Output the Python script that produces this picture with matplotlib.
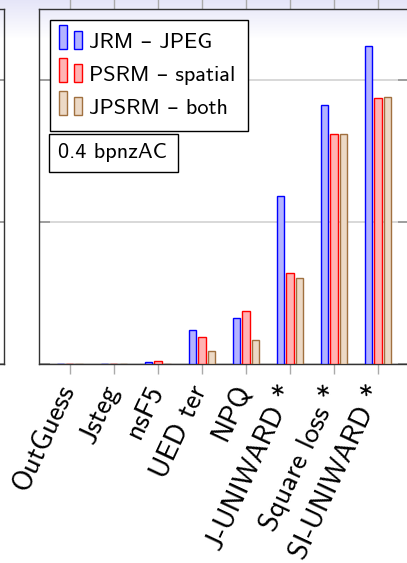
import numpy as np
import matplotlib
matplotlib.use('Agg')
import matplotlib.pyplot as plt
import matplotlib.transforms as mtransforms
from matplotlib.patches import Rectangle
from matplotlib.legend_handler import HandlerBase
from matplotlib import font_manager

# ---------------- data ----------------
categories = ['OutGuess', 'Jsteg', 'nsF5', 'UED ter', 'NPQ',
              'J-UNIWARD *', 'Square loss *', 'SI-UNIWARD *']
jrm = [0.05, 0.05, 0.14, 2.4, 3.24, 11.87, 18.26, 22.4]
psrm = [0.05, 0.05, 0.26, 1.9, 3.75, 6.43, 16.2, 18.75]
jpsrm = [0.03, 0.03, 0.03, 0.97, 1.69, 6.1, 16.2, 18.8]
series_labels = ['JRM – JPEG', 'PSRM – spatial', 'JPSRM – both']
annotation = '0.4 bpnzAC'
yticks = [0, 10, 20]

# ---------------- fonts ----------------
try:
    font_manager.findfont('cmss10', fallback_to_default=False)
    fam = ['cmss10', 'DejaVu Sans']
except Exception:
    fam = ['DejaVu Sans']
plt.rcParams['font.family'] = fam
FS = 16
FS_TICK = 20.5

W, H = 407, 563
fig = plt.figure(figsize=(W / 100, H / 100), dpi=100)

# background shading (beamer-like)
bg = fig.add_axes([0, 0, 1, 1], zorder=-10)
rows = np.arange(H)
t = np.clip(rows / 38.0, 0, 1)[:, None]
top = np.array([0.90, 0.90, 0.975])
img = top * (1 - t) + np.array([1.0, 1.0, 1.0]) * t
img = np.repeat(img[:, None, :], 2, axis=1)
bg.imshow(img, extent=[0, 1, 0, 1], aspect='auto', origin='upper')
bg.axis('off')


def fx(px):
    return px / W


def fy(py):
    return 1 - py / H


y_bot, y_top = 364.3, 9.3
ax = fig.add_axes([fx(39), fy(y_bot), fx(408.8) - fx(39), (y_bot - y_top) / H],
                  facecolor='none')

x = np.arange(len(categories))
bw = 0.166
off = 0.212
colors = [('#b3b3ff', '#0000ff'), ('#ffb3b3', '#ff0000'), ('#ecd9c6', '#a0703f')]
for vals, dx, (fc, ec) in zip([jrm, psrm, jpsrm], [-off, 0, off], colors):
    ax.bar(x + dx, vals, width=bw, facecolor=fc, edgecolor=ec, linewidth=1.0, zorder=3)

ax.set_xlim(-0.7, 7.7)
ax.set_ylim(0, 25)
ax.set_yticks(yticks)
ax.yaxis.grid(True, color='#d6d6d6', linewidth=1.3, zorder=0)
ax.set_axisbelow(True)
ax.tick_params(axis='y', direction='in', length=8, width=1.3, color='#999999',
               left=True, right=True, labelleft=False)
ax.set_xticks(x)
ax.tick_params(axis='x', direction='out', length=7, width=1, color='#aaaaaa',
               bottom=True, top=True, labelbottom=False)
lab_tr = ax.get_xaxis_transform() + mtransforms.ScaledTranslation(
    -13 / 100, -16.5 / 100, fig.dpi_scale_trans)
for xi, name in zip(x, categories):
    ax.text(xi, 0, name, transform=lab_tr, rotation=65, ha='right', va='top',
            rotation_mode='anchor', fontsize=FS_TICK)
for s in ax.spines.values():
    s.set_color('#333333')
    s.set_linewidth(1.0)

# left (cropped) panel
axL = fig.add_axes([-0.5, fy(y_bot), 0.5 + fx(4), (y_bot - y_top) / H], facecolor='none')
axL.set_ylim(0, 25)
axL.set_yticks(yticks)
axL.set_xticks([])
axL.yaxis.grid(True, color='#d6d6d6', linewidth=1.3)
axL.tick_params(axis='y', direction='in', length=8, width=1.3, color='#999999',
                left=True, right=True, labelleft=False)
for s in axL.spines.values():
    s.set_color('#333333')
    s.set_linewidth(1.0)


class TwoBars(HandlerBase):
    def create_artists(self, legend, orig_handle, xdescent, ydescent, width,
                       height, fontsize, trans):
        fc = orig_handle.get_facecolor()
        ec = orig_handle.get_edgecolor()
        w = 5.8
        x0 = -xdescent - 3.1
        r1 = Rectangle((x0, -ydescent - 0.5), w, 17.3, facecolor=fc,
                       edgecolor=ec, linewidth=1.0, transform=trans)
        r2 = Rectangle((x0 + 11, -ydescent - 0.5), w, 13.0, facecolor=fc,
                       edgecolor=ec, linewidth=1.0, transform=trans)
        return [r1, r2]


handles = [Rectangle((0, 0), 1, 1, facecolor=fc, edgecolor=ec) for fc, ec in colors]
leg = ax.legend(handles, series_labels, loc='upper left',
                bbox_to_anchor=(fx(50), fy(20)), bbox_transform=fig.transFigure,
                borderaxespad=0, frameon=True, fancybox=False, edgecolor='black',
                framealpha=1, borderpad=0.58, labelspacing=0.6,
                handlelength=1.08, handletextpad=0.09, fontsize=FS,
                handler_map={Rectangle: TwoBars()})
leg.get_frame().set_linewidth(1.0)
leg.set_zorder(10)

# annotation box
fig.patches.append(Rectangle((fx(49), fy(172)), fx(178) - fx(49), (172 - 134) / H,
                             transform=fig.transFigure, facecolor='white',
                             edgecolor='black', linewidth=1.0, zorder=5))
fig.text(fx(58), fy(158.3), annotation, fontsize=FS, ha='left', va='baseline', zorder=6)

fig.savefig('out.png', dpi=100)
